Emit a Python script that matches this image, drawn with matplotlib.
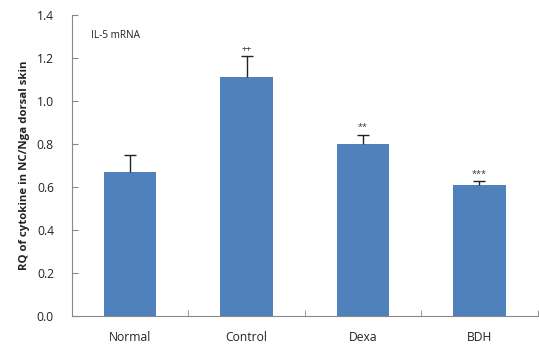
import matplotlib
matplotlib.use("Agg")
import matplotlib.pyplot as plt
import numpy as np

groups = ["Normal", "Control", "Dexa", "BDH"]
rq_values = [0.671, 1.108, 0.800, 0.609]
rq_errors = [0.076, 0.098, 0.043, 0.016]
marks = ["", "++", "**", "***"]

plt.rcParams["font.family"] = ["Open Sans", "DejaVu Sans"]

fig = plt.figure(figsize=(5.39, 3.46), dpi=100)
ax = fig.add_axes([0.1336, 0.0867, 0.864, 0.871])

x = np.arange(len(groups))
ax.bar(x, rq_values, width=0.45, color="#4F81BD", zorder=2)
eb = ax.errorbar(x, rq_values, yerr=[np.zeros(len(groups)), rq_errors], fmt="none",
                 ecolor="#222222", elinewidth=1, capsize=4, capthick=1, zorder=3)
# only the upper cap, like the original
eb[1][0].set_visible(False)

for xi, v, e, m in zip(x, rq_values, rq_errors, marks):
    if m:
        ax.text(xi, v + e + 0.012, m, ha="center", va="bottom", fontsize=6.5, color="#333333")

ax.set_xlim(-0.5, 3.5)
ax.set_ylim(0, 1.4)
yt = np.arange(0, 1.41, 0.2)
ax.set_yticks(yt)
ax.set_yticklabels([f"{t:.1f}" for t in yt])
ax.set_xticks(x)
ax.set_xticklabels(groups)
ax.set_xticks(np.arange(-0.5, 3.6, 1), minor=True)
ax.tick_params(axis="x", which="major", length=0, pad=11, labelsize=8.7, colors="#222222")
ax.tick_params(axis="x", which="minor", length=4, direction="in", color="#888888")
ax.tick_params(axis="y", length=4, direction="in", color="#888888", labelsize=8.7,
               labelcolor="#222222", pad=13)

for side in ["top", "right"]:
    ax.spines[side].set_visible(False)
for side in ["left", "bottom"]:
    ax.spines[side].set_color("#888888")
    ax.spines[side].set_linewidth(0.8)

ax.set_ylabel("RQ of cytokine in NC/Nga dorsal skin", fontsize=8.2, fontweight="bold",
              color="#222222", labelpad=5)
ax.text(0.04, 0.93, "IL-5 mRNA", transform=ax.transAxes, fontsize=7.2, color="#222222",
        ha="left", va="center")

fig.savefig("out.png", dpi=100)
